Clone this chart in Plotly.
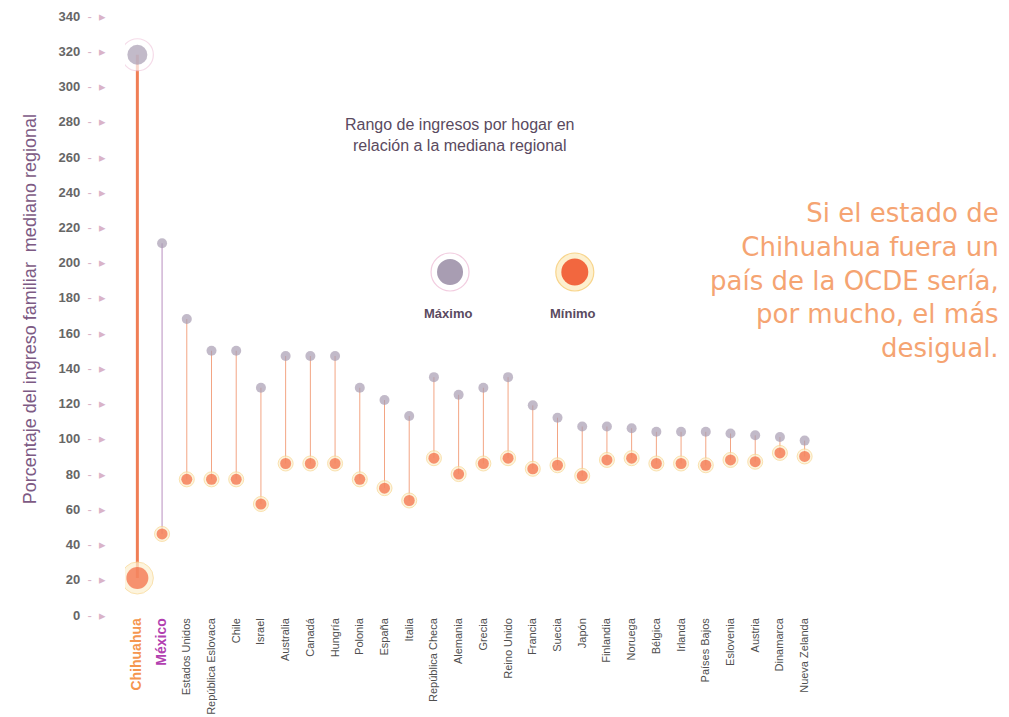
import plotly.graph_objects as go

categories = ["Chihuahua", "México", "Estados Unidos", "República Eslovaca", "Chile", "Israel",
              "Australia", "Canadá", "Hungría", "Polonia", "España", "Italia",
              "República Checa", "Alemania", "Grecia", "Reino Unido", "Francia", "Suecia",
              "Japón", "Finlandia", "Noruega", "Bélgica", "Irlanda", "Países Bajos",
              "Eslovenia", "Austria", "Dinamarca", "Nueva Zelanda"]
maximo = [318, 211, 168, 150, 150, 129, 147, 147, 147, 129, 122, 113,
          135, 125, 129, 135, 119, 112, 107, 107, 106, 104, 104, 104,
          103, 102, 101, 99]
minimo = [21, 46, 77, 77, 77, 63, 86, 86, 86, 77, 72, 65,
          89, 80, 86, 89, 83, 85, 79, 88, 89, 86, 86, 85,
          88, 87, 92, 90]
y_ticks = list(range(0, 341, 20))

FONT = "Liberation Sans Narrow, Liberation Sans, Arial, sans-serif"
GRAY = "#a89db2"
ORANGE = "#f2673f"

fig = go.Figure()

n = len(categories)
for i in range(n):
    if i == 0:
        col, w = "#f07e55", 3
    elif i == 1:
        col, w = "#b98fbf", 1
    else:
        col, w = "#f3a584", 1
    fig.add_trace(go.Scatter(x=[categories[i], categories[i]], y=[minimo[i], maximo[i]],
                             mode="lines", line=dict(color=col, width=w),
                             hoverinfo="skip", showlegend=False))

sizes_ring = [32] + [15] * (n - 1)
sizes_max = [20] + [10] * (n - 1)
sizes_min = [22] + [11] * (n - 1)

fig.add_trace(go.Scatter(x=categories, y=maximo, mode="markers",
                         marker=dict(size=[32] + [0] * (n - 1), color="white",
                                     line=dict(color="#f2cde0", width=1.2)),
                         hoverinfo="skip", showlegend=False))
fig.add_trace(go.Scatter(x=categories, y=maximo, mode="markers", name="Máximo",
                         marker=dict(size=sizes_max, color=GRAY, line=dict(width=0)),
                         showlegend=False))
fig.add_trace(go.Scatter(x=categories, y=minimo, mode="markers",
                         marker=dict(size=sizes_ring, color="#fdf0cf",
                                     line=dict(color="#f8d58c", width=1)),
                         hoverinfo="skip", showlegend=False))
fig.add_trace(go.Scatter(x=categories, y=minimo, mode="markers", name="Mínimo",
                         marker=dict(size=sizes_min, color=ORANGE, line=dict(width=0)),
                         showlegend=False))

xt = []
for i, c in enumerate(categories):
    if i == 0:
        xt.append(f"<span style='color:#f5964f;font-size:14px'><b>{c}</b></span>")
    elif i == 1:
        xt.append(f"<span style='color:#b23fb0;font-size:14px'><b>{c}</b></span>")
    else:
        xt.append(c)
yt = [f"<b>{v}</b>  <span style='color:#d9b3c9'>-  ▸</span>" for v in y_ticks]

# page body has an 8px offset; margins compensate so the plot lands where the reference has it
fig.update_layout(
    width=1009, height=717,
    margin=dict(l=117, r=200, t=8, b=110, autoexpand=False),
    paper_bgcolor="white", plot_bgcolor="white",
    font=dict(family=FONT, color="#555555", size=12),
    xaxis=dict(type="category", categoryorder="array", categoryarray=categories,
               range=[-0.5, n - 0.5], tickmode="array", tickvals=categories, ticktext=xt,
               tickangle=-90, showgrid=False, zeroline=False, showline=False, ticks="",
               automargin=False,
               tickfont=dict(family=FONT, size=11, color="#4f4f4f")),
    yaxis=dict(range=[0, 340], tickmode="array", tickvals=y_ticks, ticktext=yt,
               showgrid=False, zeroline=False, showline=False, ticks="",
               ticklabelstandoff=18, automargin=False,
               tickfont=dict(family=FONT, size=13, color="#666666")),
)

annotations = [
    dict(text="Porcentaje del ingreso familiar  mediano regional", textangle=-90,
         xref="paper", yref="paper", x=-0.155, y=0.51, showarrow=False,
         font=dict(family=FONT, size=18, color="#7d5a84")),
    dict(text="Rango de ingresos por hogar en<br>relación a la mediana regional",
         xref="paper", yref="paper", x=0.484, y=0.836, showarrow=False, align="center",
         font=dict(family=FONT, size=16, color="#5a4a60")),
    dict(text="<b>Máximo</b>", xref="paper", yref="paper", x=0.467, y=0.504, showarrow=False,
         font=dict(family=FONT, size=13, color="#5a4a60")),
    dict(text="<b>Mínimo</b>", xref="paper", yref="paper", x=0.648, y=0.504, showarrow=False,
         font=dict(family=FONT, size=13, color="#5a4a60")),
    dict(text="Si el estado de<br>Chihuahua fuera un<br>país de la OCDE sería,<br>por mucho, el más<br>desigual.",
         xref="paper", yref="paper", x=1.266, y=0.559, xanchor="right", showarrow=False,
         align="right", font=dict(family="DejaVu Sans, sans-serif", size=26, color="#f5a472")),
]
fig.update_layout(annotations=annotations)

def circle(xp, yp, d, fill, line_col, lw):
    return dict(type="circle", xref="paper", yref="paper", xsizemode="pixel", ysizemode="pixel",
                xanchor=xp, yanchor=yp, x0=-d / 2, x1=d / 2, y0=-d / 2, y1=d / 2,
                fillcolor=fill, line=dict(color=line_col, width=lw), layer="above")

yp = (615 - 272) / 599
shapes = [
    circle(0.4697, yp, 38, "white", "#f2cde0", 1.2),
    circle(0.4697, yp, 26, GRAY, GRAY, 0),
    circle(0.650, yp, 38, "#fdf0cf", "#f8d58c", 1.2),
    circle(0.650, yp, 27, ORANGE, ORANGE, 0),
]
fig.update_layout(shapes=shapes)

fig.write_html("out.html")
